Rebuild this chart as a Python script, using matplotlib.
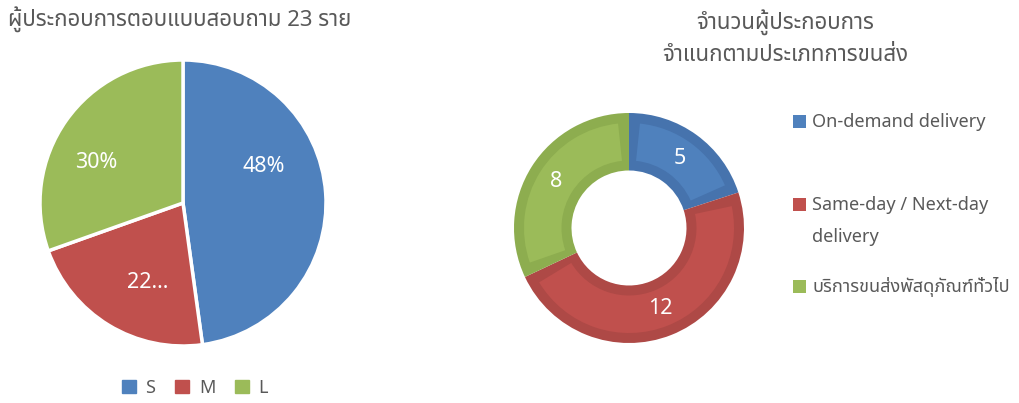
import matplotlib.pyplot as plt
from matplotlib import font_manager
from matplotlib.patches import Patch, Wedge, Rectangle
import numpy as np

# pick an installed font that has Thai glyphs
installed = {f.name for f in font_manager.fontManager.ttflist}
thai_font = next((f for f in ["Noto Sans Thai", "Noto Sans Thai UI", "Sarabun", "Anuphan",
                              "Bai Jamjuree", "Athiti"] if f in installed), "DejaVu Sans")
plt.rcParams['font.family'] = ['Noto Sans', thai_font, 'DejaVu Sans']

# left pie: company size of the 23 respondents
size_labels = ["S", "M", "L"]
size_counts = [11, 5, 7]
size_pct_text = ["48%", "22...", "30%"]

# donut: respondents by delivery type
type_labels = ["On-demand delivery", "Same-day / Next-day\ndelivery",
               "บริการขนส่งพัสดุภัณฑ์ทั่วไป"]
type_counts = [5, 12, 8]

colors = ["#4F81BD", "#C0504D", "#9BBB59"]
edge_colors = ["#4673AD", "#AE4946", "#8DAD4F"]
text_gray = "#595959"

W, H = 1019, 403
fig = plt.figure(figsize=(W / 100, H / 100), dpi=100)


def px_axes(cx, cy, r):
    return fig.add_axes([(cx - r) / W, (H - cy - r) / H, 2 * r / W, 2 * r / H])


# ---- left pie
ax1 = px_axes(183, 203, 143)
wedges, _ = ax1.pie(size_counts, colors=colors, startangle=90, counterclock=False,
                    wedgeprops=dict(edgecolor="white", linewidth=2.5))
# label placement (angle deg, fraction of radius) roughly as in the original
label_pos = [(24, 0.62), (-114, 0.61), (155, 0.67)]
for txt, (ang, d) in zip(size_pct_text, label_pos):
    a = np.deg2rad(ang)
    ax1.text(d * np.cos(a), d * np.sin(a), txt, ha="center", va="center",
             color="white", fontsize=15.5)
ax1.set_xlim(-1, 1)
ax1.set_ylim(-1, 1)

fig.text(8 / W, 1 - 20 / H, "ผู้ประกอบการตอบแบบสอบถาม 23 ราย", ha="left", va="center",
         color=text_gray, fontsize=16)

fig.legend(handles=[Patch(color=c, label=l) for c, l in zip(colors, size_labels)],
           loc="center", bbox_to_anchor=(195 / W, 1 - 388 / H), ncol=3, frameon=False,
           fontsize=13, handlelength=0.75, handleheight=0.75, columnspacing=1.1,
           handletextpad=0.55, labelcolor=text_gray)

# ---- right donut (darker band around each segment, lighter inset)
ax2 = px_axes(629, 228, 115)
wedges2, _, autotexts = ax2.pie(type_counts, colors=edge_colors, startangle=90,
                                counterclock=False,
                                autopct=lambda p: "%d" % round(p * sum(type_counts) / 100),
                                pctdistance=0.75,
                                wedgeprops=dict(width=0.5, linewidth=0))
band = 10 / 115
for w, c in zip(wedges2, colors):
    da = np.rad2deg(band / 0.75) * 0.9
    inset = Wedge((0, 0), 1 - band, w.theta1 + da, w.theta2 - da,
                  width=0.5 - 2 * band, facecolor=c, linewidth=0)
    ax2.add_patch(inset)
for t in autotexts:
    t.set_color("white")
    t.set_fontsize(15.5)
    t.set_zorder(5)
ax2.set_xlim(-1, 1)
ax2.set_ylim(-1, 1)

fig.text(785 / W, 1 - 38 / H, "จำนวนผู้ประกอบการ\nจำแนกตามประเภทการขนส่ง", ha="center",
         va="center", color=text_gray, fontsize=16, linespacing=1.55)

# legend for the donut, laid out by hand (wrapped entry keeps its key on the first line)
legend_rows_px = [122, 205, 287]
for c, lab, ypx in zip(colors, type_labels, legend_rows_px):
    fig.add_artist(Rectangle(((793) / W, 1 - (ypx + 6) / H), 13 / W, 13 / H,
                             facecolor=c, edgecolor="none", transform=fig.transFigure))
    if "\n" in lab:
        fig.text(812 / W, 1 - (ypx - 9) / H, lab, ha="left", va="top",
                 color=text_gray, fontsize=13, linespacing=2.0)
    else:
        fig.text(812 / W, 1 - ypx / H, lab, ha="left", va="center",
                 color=text_gray, fontsize=13)

fig.savefig("out.png", dpi=100)
